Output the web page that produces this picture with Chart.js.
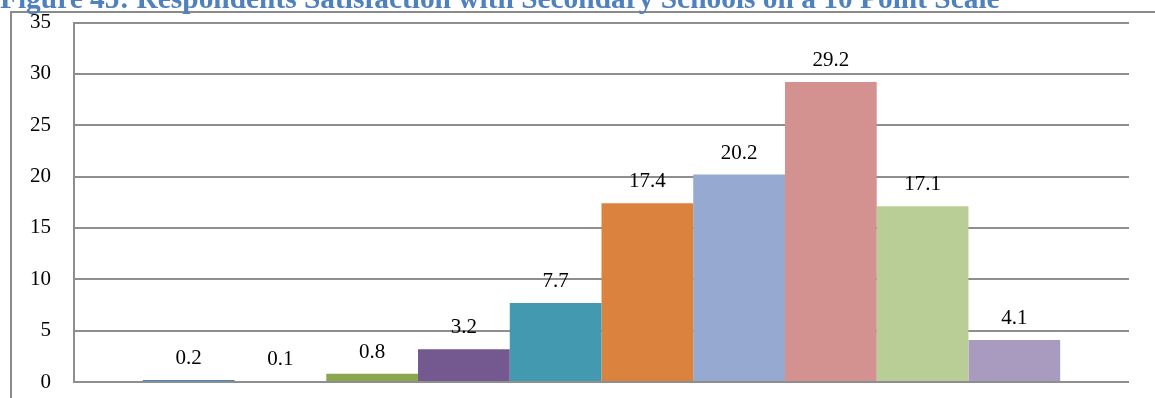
<!DOCTYPE html>
<html>
<head>
<meta charset="utf-8">
<script src="https://cdn.jsdelivr.net/npm/chart.js@4/dist/chart.umd.min.js"></script>
<style>
  html, body { margin: 0; padding: 0; background: #fff; }
  #wrap { position: relative; width: 1155px; height: 398px; overflow: hidden; }
  canvas { display: block; }
</style>
</head>
<body>
<div id="wrap"><canvas id="c" width="1155" height="398"></canvas></div>
<script>
// Satisfaction ratings on a 10 point scale, one bar per rating
const scalePoints = ['1', '2', '3', '4', '5', '6', '7', '8', '9', '10'];
const shares = [0.2, 0.1, 0.8, 3.2, 7.7, 17.4, 20.2, 29.2, 17.1, 4.1];
const yTicks = [0, 5, 10, 15, 20, 25, 30, 35];
const figureTitle = 'Figure 45: Respondents Satisfaction with Secondary Schools on a 10 Point Scale';

const palette = ['#4a7ebb', '#be4b48', '#8aa64e', '#735990', '#4399b0',
                 '#db823e', '#95a9d1', '#d39190', '#b9cd96', '#a99bbf'];

const serif = '"Liberation Serif", "Times New Roman", serif';

// Frame around the figure plus the caption running along its top edge
const framePlugin = {
  id: 'frame',
  beforeDraw(chart) {
    const ctx = chart.ctx;
    ctx.save();
    ctx.fillStyle = '#ffffff';
    ctx.fillRect(0, 0, chart.width, chart.height);
    ctx.strokeStyle = '#8a8a8a';
    ctx.lineWidth = 2;
    ctx.beginPath();
    ctx.moveTo(11, chart.height + 2);
    ctx.lineTo(11, 12);
    ctx.lineTo(chart.width + 2, 12);
    ctx.stroke();
    ctx.restore();
  },
  afterDraw(chart) {
    const ctx = chart.ctx;
    ctx.save();
    ctx.font = 'bold 29.4px ' + serif;
    ctx.fillStyle = '#4f81bd';
    ctx.textAlign = 'left';
    ctx.textBaseline = 'alphabetic';
    ctx.fillText(figureTitle, 0, 8);
    ctx.restore();
  }
};

// Value printed above each bar
const valueLabels = {
  id: 'valueLabels',
  afterDatasetsDraw(chart) {
    const ctx = chart.ctx;
    ctx.save();
    ctx.font = '21px ' + serif;
    ctx.fillStyle = '#000000';
    ctx.textAlign = 'center';
    ctx.textBaseline = 'alphabetic';
    chart.data.datasets.forEach((ds, i) => {
      const bar = chart.getDatasetMeta(i).data[0];
      ctx.fillText(ds.data[0].toFixed(1), bar.x, bar.y - 16);
    });
    ctx.restore();
  }
};

new Chart(document.getElementById('c'), {
  type: 'bar',
  data: {
    labels: [''],
    datasets: scalePoints.map((p, i) => ({
      label: p,
      data: [shares[i]],
      backgroundColor: palette[i],
      borderWidth: 0,
      categoryPercentage: 10 / 11.5,
      barPercentage: 1
    }))
  },
  options: {
    responsive: false,
    animation: false,
    layout: { padding: { left: 0, right: 26, top: 22.5, bottom: 16 } },
    plugins: { legend: { display: false }, tooltip: { enabled: false }, title: { display: false } },
    scales: {
      x: { display: false },
      y: {
        min: 0,
        max: 35,
        afterFit(scale) {
          scale.width = 74;
          scale.paddingTop = 0;
          scale.paddingBottom = 0;
        },
        afterBuildTicks(scale) { scale.ticks = yTicks.map(v => ({ value: v })); },
        ticks: {
          padding: 23,
          color: '#000000',
          font: { family: serif, size: 21 }
        },
        grid: { color: '#8e8e8e', lineWidth: 2, drawTicks: false },
        border: { display: true, color: '#8e8e8e', width: 2 }
      }
    }
  },
  plugins: [framePlugin, valueLabels]
});
</script>
</body>
</html>
